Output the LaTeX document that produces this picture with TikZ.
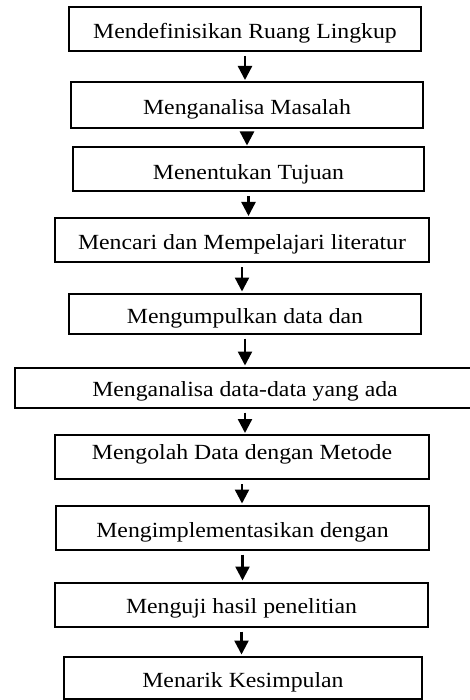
\documentclass[tikz,border=0pt]{standalone}
\usepackage{fontspec}
\setmainfont{Liberation Serif}[FakeStretch=1.1]
\usepackage{tikz}
\usetikzlibrary{arrows.meta,positioning}
\tikzset{
  stepbox/.style={rectangle,draw=black,line width=2pt,fill=white,inner sep=0pt,
                  minimum height=44pt,text height=20pt,text depth=0pt,
                  font=\fontsize{21.6}{24}\selectfont,align=center},
  flow/.style={-{Triangle[length=14pt,width=14pt]},line width=2.4pt,draw=black,
               shorten <=4pt,shorten >=1pt},
}
\begin{document}
\begin{tikzpicture}[x=1pt,y=-1pt]
  \useasboundingbox (0,0) rectangle (470,700);
  \node[stepbox,minimum width=352pt] (s1) at (245,29)    {Mendefinisikan Ruang Lingkup};
  \node[stepbox,minimum width=352pt,minimum height=46pt] (s2) at (247,105) {Menganalisa Masalah};
  \node[stepbox,minimum width=351pt] (s3) at (248.5,169.5) {Menentukan Tujuan};
  \node[stepbox,minimum width=374pt] (s4) at (242,240)   {Mencari dan Mempelajari literatur};
  \node[stepbox,minimum width=352pt,minimum height=40pt] (s5) at (245,313.5) {Mengumpulkan data dan};
  \node[stepbox,minimum width=460pt,minimum height=40pt,text height=18pt] (s6) at (245,387.5) {Menganalisa data-data yang ada};
  \node[stepbox,minimum width=374pt,text height=15pt,text depth=10pt] (s7) at (242,457) {Mengolah Data dengan Metode};
  \node[stepbox,minimum width=373pt] (s8) at (242.5,527.5) {Mengimplementasikan dengan};
  \node[stepbox,minimum width=373pt,text height=18pt] (s9) at (241.5,604.5) {Menguji hasil penelitian};
  \node[stepbox,minimum width=358pt,minimum height=42pt] (s10) at (243,677.5) {Menarik Kesimpulan};
  \foreach \a/\b in {s1/s2,s2/s3,s3/s4,s4/s5,s5/s6,s6/s7,s7/s8,s8/s9,s9/s10}
    \draw[flow] (\a.south) -- (\a.south |- \b.north);
\end{tikzpicture}
\end{document}
